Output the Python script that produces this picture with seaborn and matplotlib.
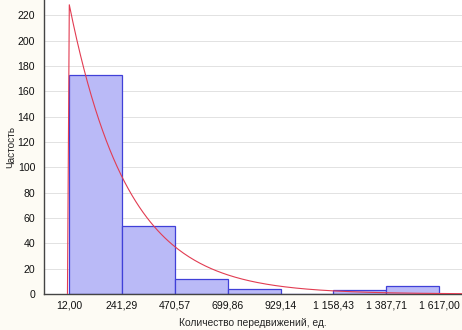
import numpy as np
import pandas as pd
import matplotlib
matplotlib.use("Agg")
import matplotlib.pyplot as plt
import seaborn as sns

# ---- data ----
bin_edges = [12.00, 241.29, 470.57, 699.86, 929.14, 1158.43, 1387.71, 1617.00]
counts = [173, 54, 12, 4, 0, 3, 6]
tick_labels = ["12,00", "241,29", "470,57", "699,86", "929,14",
               "1 158,43", "1 387,71", "1 617,00"]
y_ticks = [0, 20, 40, 60, 80, 100, 120, 140, 160, 180, 200, 220]
x_label = "Количество передвижений, ед."
y_label = "Частость"

# exponential fit (threshold theta, rate lam), scaled to counts
theta = 12.0
lam = 0.00395
n_total = sum(counts)
bin_width = bin_edges[1] - bin_edges[0]

sns.set_theme(style="white")
plt.rcParams['font.family'] = ['Liberation Sans', 'DejaVu Sans']

fig = plt.figure(figsize=(4.62, 3.30), dpi=100)
fig.patch.set_facecolor("#fdfbf4")
ax = fig.add_axes([43.5 / 462, 36 / 330, 1 - 43.5 / 462, 294 / 330])
ax.set_facecolor("white")

centers = [(a + b) / 2 for a, b in zip(bin_edges[:-1], bin_edges[1:])]
df = pd.DataFrame({"x": centers, "w": counts})
sns.histplot(data=df, x="x", weights="w", bins=bin_edges, ax=ax,
             color="#babaf7", alpha=1.0, edgecolor="#4040d8", linewidth=0.9,
             zorder=2)

step = 8.0
xs = theta + step * np.arange(-1, int((1720 - theta) / step) + 1)
ys = np.where(xs >= theta, n_total * bin_width * lam * np.exp(-lam * (xs - theta)), 0.0)
sns.lineplot(x=xs, y=ys, ax=ax, color="#e23c52", linewidth=0.8, zorder=3,
             estimator=None, sort=False)

ax.set_xlim(-100, 1717)
ax.set_ylim(0, 232)
ax.set_xticks(bin_edges)
ax.set_xticklabels(tick_labels, fontsize=7.6)
ax.set_yticks(y_ticks)
ax.set_yticklabels([str(v) for v in y_ticks], fontsize=7.6)
ax.tick_params(axis="both", length=0, colors="#111111")
ax.tick_params(axis="x", pad=5)
ax.tick_params(axis="y", pad=6)
ax.grid(axis="y", color="#e2e2e2", linewidth=0.7, zorder=0)
ax.set_axisbelow(True)
for s in ["top", "right"]:
    ax.spines[s].set_visible(False)
for s in ["left", "bottom"]:
    ax.spines[s].set_color("#444444")
    ax.spines[s].set_linewidth(1.0)
ax.set_xlabel(x_label, fontsize=7.4, labelpad=5)
ax.set_ylabel(y_label, fontsize=7.2, labelpad=1)

fig.savefig("out.png", dpi=100, facecolor=fig.get_facecolor())
